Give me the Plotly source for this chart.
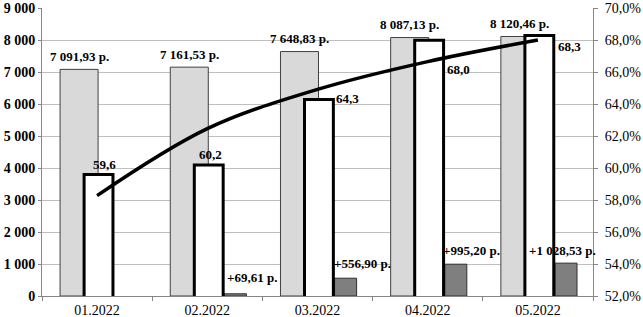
import plotly.graph_objects as go

# ---- data ----
categories = ["01.2022", "02.2022", "03.2022", "04.2022", "05.2022"]
income = [7091.93, 7161.53, 7648.83, 8087.13, 8120.46]          # left axis, grey bars
share = [59.6, 60.2, 64.3, 68.0, 68.3]                           # right axis, white bars (%)
increase = [None, 69.61, 556.90, 995.20, 1028.53]                # left axis, dark bars
trend = [58.28, 62.47, 64.93, 66.67, 68.02]                      # right axis, trend line (%)
left_ticks = [0, 1000, 2000, 3000, 4000, 5000, 6000, 7000, 8000, 9000]
right_ticks = [52, 54, 56, 58, 60, 62, 64, 66, 68, 70]

# label placement tweaks (pixels) as seen in the picture
share_xshift = [7, 3, 30, 31, 32]
share_yshift = [10, 10, 1, -29, -11]
inc_xshift = [0, 45, 45, 44, 25]
inc_yshift = [0, 16, 15, 14, 13]


def money(v):
    s = f"{v:,.2f}".replace(",", " ").replace(".", ",")
    return s + " р."


FONT = "Liberation Serif, Times New Roman, serif"

fig = go.Figure()

fig.add_trace(go.Bar(
    x=categories, y=income, yaxis="y",
    offset=-0.336, width=0.345,
    marker=dict(color="#d9d9d9", line=dict(color="#404040", width=1)),
    showlegend=False, hoverinfo="skip",
))
fig.add_trace(go.Bar(
    x=categories, y=increase, yaxis="y",
    offset=0.155, width=0.2,
    marker=dict(color="#7f7f7f", line=dict(color="#303030", width=1)),
    showlegend=False, hoverinfo="skip",
))
fig.add_trace(go.Bar(
    x=categories, y=share, yaxis="y2",
    offset=-0.118, width=0.262,
    marker=dict(color="#ffffff", line=dict(color="#000000", width=3)),
    showlegend=False, hoverinfo="skip",
))
fig.add_trace(go.Scatter(
    x=categories, y=trend, yaxis="y2", mode="lines",
    line=dict(color="#000000", width=3.5, shape="spline"),
    showlegend=False, hoverinfo="skip",
))

annotations = []
for i, c in enumerate(categories):
    annotations.append(dict(
        x=i, y=income[i], xref="x", yref="y", text=money(income[i]),
        showarrow=False, xshift=-18, yshift=13, yanchor="middle",
        font=dict(family=FONT, size=13, color="#000000", weight="bold"),
    ))
    annotations.append(dict(
        x=i, y=share[i], xref="x", yref="y2", text=f"{share[i]:.1f}".replace(".", ","),
        showarrow=False, xshift=share_xshift[i], yshift=share_yshift[i], yanchor="middle",
        font=dict(family=FONT, size=13, color="#000000", weight="bold"),
    ))
    if increase[i] is not None:
        annotations.append(dict(
            x=i, y=increase[i], xref="x", yref="y", text="+" + money(increase[i]),
            showarrow=False, xshift=inc_xshift[i], yshift=inc_yshift[i], yanchor="middle",
            font=dict(family=FONT, size=13, color="#000000", weight="bold"),
        ))

left_text = [f"{v:,d}".replace(",", " ") for v in left_ticks]
right_text = [f"{v:.1f}".replace(".", ",") + "%" for v in right_ticks]

fig.update_layout(
    width=643, height=317,
    margin=dict(l=42, r=50, t=8, b=21, autoexpand=False),
    paper_bgcolor="#ffffff", plot_bgcolor="#ffffff",
    barmode="overlay",
    separators=", ",
    font=dict(family=FONT, size=13, color="#000000"),
    xaxis=dict(
        type="category", range=[-0.5, 4.5], automargin=False,
        showgrid=False, showline=True, linecolor="#868686", linewidth=1,
        ticks="outside", tickson="boundaries", ticklen=4, tickcolor="#868686",
        ticklabelstandoff=1, ticklabeloverflow="allow",
        tickfont=dict(family=FONT, size=14), zeroline=False,
    ),
    yaxis=dict(
        range=[0, 9012], tickvals=left_ticks, ticktext=left_text, automargin=False,
        showgrid=True, gridcolor="#bfbfbf", gridwidth=1,
        showline=True, linecolor="#868686", ticks="outside", ticklen=3, tickcolor="#868686",
        ticklabelstandoff=0, ticklabeloverflow="allow",
        tickfont=dict(family=FONT, size=14, weight="bold"), zeroline=False,
    ),
    yaxis2=dict(
        range=[52, 70.024], tickvals=right_ticks, ticktext=right_text, automargin=False,
        overlaying="y", side="right", showgrid=False,
        showline=True, linecolor="#868686", ticks="outside", ticklen=4, tickcolor="#868686",
        ticklabelstandoff=4, ticklabeloverflow="allow",
        tickfont=dict(family=FONT, size=14), zeroline=False,
    ),
    annotations=annotations,
)

fig.write_html(
    "out.html",
    config={"displayModeBar": False},
    post_script="document.body.style.margin='0px';document.body.style.overflow='hidden';",
)
